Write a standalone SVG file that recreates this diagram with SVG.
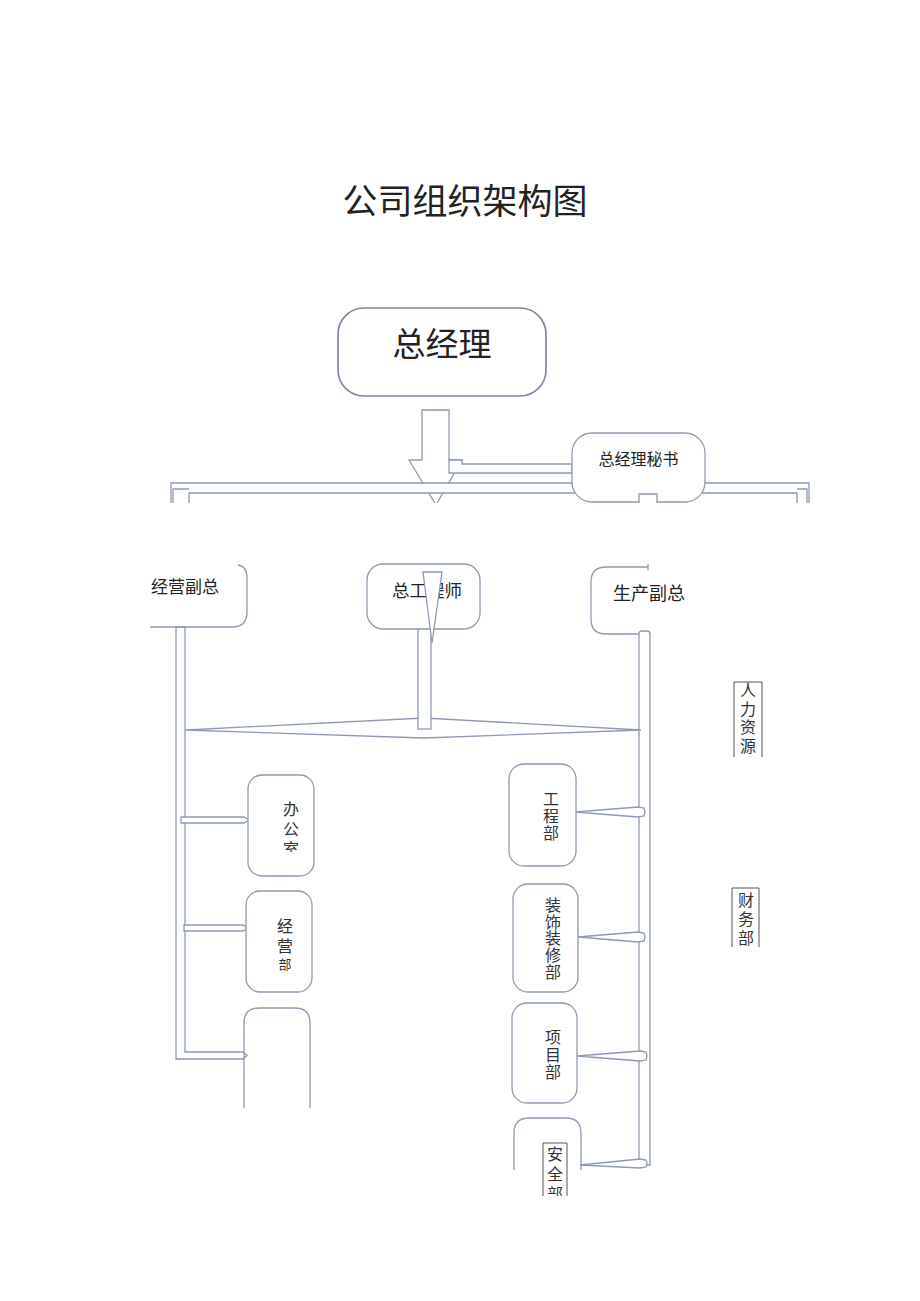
<svg xmlns="http://www.w3.org/2000/svg" width="920" height="1301" viewBox="0 0 920 1301">
<defs>
<style>
.b{fill:#fff;stroke:#8e9ab3;stroke-width:1.3}
.ln{fill:none;stroke:#8e9ab3;stroke-width:1.3}
.t{font-family:"Noto Sans CJK SC","Noto Sans",sans-serif;fill:#222}
.v{font-family:"Noto Sans CJK SC","Noto Sans",sans-serif;fill:#333;font-size:16px;writing-mode:vertical-rl;text-orientation:upright}
.frame{fill:none;stroke:#555;stroke-width:1}
</style>
<clipPath id="topclip"><rect x="0" y="0" width="920" height="503"/></clipPath>
<clipPath id="cOffice"><rect x="0" y="0" width="920" height="852"/></clipPath>
<clipPath id="cHR"><rect x="0" y="0" width="920" height="757"/></clipPath>
<clipPath id="cFin"><rect x="0" y="0" width="920" height="947"/></clipPath>
<clipPath id="cSafe"><rect x="0" y="0" width="920" height="1196"/></clipPath>
</defs>
<rect x="0" y="0" width="920" height="1301" fill="#fff"/>

<text class="t" x="465" y="214" font-size="35" text-anchor="middle">公司组织架构图</text>

<g id="connectors">
  <g clip-path="url(#topclip)">
    <polygon class="b" points="422,410 449,410 449,460 462,460 436,505 409,460 422,460"/>
    <polygon class="b" points="449,460 462,460 462,464 572,464 572,473 449,473"/>
    <rect x="171" y="483.5" width="638" height="9.5" fill="#fff"/>
    <path class="ln" d="M171,503 V483 H809 V503 M189,503 V493 H797 V503 M173,503 V489 H189 M797,489 H807 V503"/>
  </g>
  <path class="b" d="M185,627 V1052 H243 L247,1055.5 L243,1059 H176 V627 Z"/>
  <path class="b" d="M181,817 H244 L249,820 L244,823 H181 Z"/>
  <path class="b" d="M184,925 H243 L248,928 L243,931 H184 Z"/>
  <path class="b" d="M639,1165 V634 Q639,631 642,631 H647 Q650,631 650,634 V1165 Z"/>
  <polygon class="b" points="186,730 424,718 641,730 424,738"/>
  <rect class="b" x="418" y="628" width="13" height="101"/>
  <polygon class="b" points="575,812 638,807 644,808 645,812 644,816 638,817"/>
  <polygon class="b" points="578,937 638,932 644,933 645,937 644,941 638,942"/>
  <polygon class="b" points="577,1056 640,1051 646,1052 647,1056 646,1060 640,1061"/>
  <polygon class="b" points="580,1165 640,1159 646,1160 647,1163 646,1167 640,1168"/>
</g>

<g id="gm">
  <rect x="338" y="308" width="208" height="88" rx="26" fill="#fff" stroke="#7a88a3" stroke-width="1.7"/>
  <text class="t" x="442" y="356" font-size="33" text-anchor="middle">总经理</text>
</g>

<g id="secretary" clip-path="url(#topclip)">
  <rect class="b" x="572" y="433" width="133" height="69" rx="20"/>
  <path class="b" d="M639,503 V494 H657 V503"/>
  <text class="t" x="638.5" y="465" font-size="16" text-anchor="middle">总经理秘书</text>
</g>

<g id="vp-business">
  <path class="ln" d="M238,565 Q247,566 247,578 V612 Q247,627 232,627 H150"/>
  <text class="t" x="151" y="593" font-size="17">经营副总</text>
</g>

<g id="chief-engineer">
  <rect class="b" x="367" y="564" width="113" height="65" rx="16"/>
  <text class="t" x="427" y="597" font-size="17.5" text-anchor="middle">总工程师</text>
  <polygon class="b" points="423,572 442,572 432,643"/>
</g>

<g id="vp-production">
  <path class="ln" d="M648,567 H606 Q591,567 591,582 V619 Q591,634 606,634 H639 M648,564 V570"/>
  <text class="t" x="613" y="600" font-size="18">生产副总</text>
</g>

<g id="office">
  <rect class="b" x="248" y="775" width="66" height="101" rx="14"/>
  <g clip-path="url(#cOffice)">
    <text class="v" x="291" y="801" letter-spacing="4">办公室</text>
  </g>
</g>

<g id="business-dept">
  <rect class="b" x="246" y="891" width="66" height="101" rx="14"/>
  <text class="v" x="285" y="918" letter-spacing="4">经营<tspan font-size="13">部</tspan></text>
</g>

<g id="empty-box">
  <path class="ln" d="M244,1108 V1023 Q244,1008 259,1008 H295 Q310,1008 310,1023 V1108"/>
</g>

<g id="engineering">
  <rect class="b" x="509" y="764" width="67" height="102" rx="15"/>
  <text class="v" x="551" y="791" letter-spacing="1">工程部</text>
</g>

<g id="decoration">
  <rect class="b" x="513" y="884" width="65" height="108" rx="15"/>
  <text class="v" x="553" y="897" letter-spacing="0.7">装饰装修部</text>
</g>

<g id="project">
  <rect class="b" x="512" y="1003" width="65" height="100" rx="15"/>
  <text class="v" x="553" y="1029" font-size="15" letter-spacing="1.5">项目部</text>
</g>

<g id="safety">
  <path class="ln" d="M514,1170 V1133 Q514,1118 529,1118 H566 Q581,1118 581,1133 V1170"/>
  <rect x="543" y="1143" width="24" height="53" fill="#fff"/>
  <path class="frame" d="M543,1196 V1143 H567 V1196"/>
  <g clip-path="url(#cSafe)">
    <text class="v" x="555" y="1146" letter-spacing="4">安全部</text>
  </g>
</g>

<g id="hr">
  <path class="frame" d="M734,757 V682 H762 V757"/>
  <g clip-path="url(#cHR)">
    <text class="v" x="748" y="682" letter-spacing="2.5">人力资源</text>
  </g>
</g>

<g id="finance">
  <path class="frame" d="M732,947 V888 H759 V947"/>
  <g clip-path="url(#cFin)">
    <text class="v" x="746" y="892" font-size="15" letter-spacing="3">财务部</text>
  </g>
</g>
</svg>
